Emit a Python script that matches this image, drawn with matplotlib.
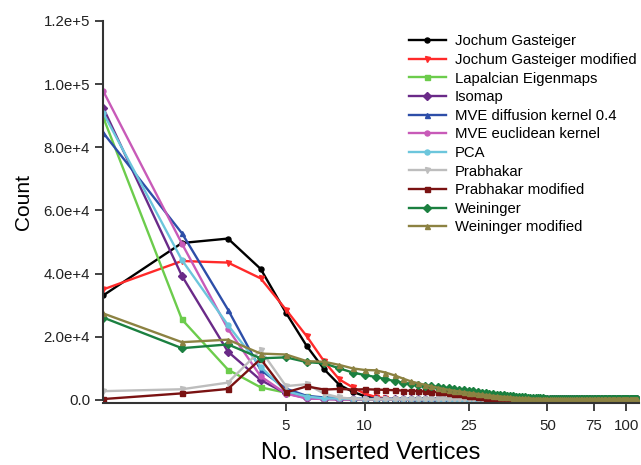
import matplotlib
matplotlib.use("Agg")
import matplotlib.pyplot as plt
from matplotlib.ticker import FixedLocator, NullLocator, FixedFormatter

plt.rcParams['font.family'] = ['Liberation Sans', 'DejaVu Sans']

x_values = list(range(1, 111))

labels = ["Jochum Gasteiger", "Jochum Gasteiger modified", "Lapalcian Eigenmaps",
          "Isomap", "MVE diffusion kernel 0.4", "MVE euclidean kernel", "PCA",
          "Prabhakar", "Prabhakar modified", "Weininger", "Weininger modified"]

jochum = [33100, 49700, 51100, 41500, 27600, 17100, 9700, 4800, 2600, 1200,
          600, 300, 150, 100] + [60] * 96
jochum_mod = [35000, 44000, 43500, 38500, 28600, 20200, 12200, 6500, 4000, 2000,
              1000, 500, 250, 150] + [100] * 96
laplacian = [89500, 25500, 9600, 4000, 2300, 1200, 600, 400] + [200] * 102
isomap = [92500, 39300, 15300, 6300, 2100, 600, 300] + [200] * 103
mve_diff = [84600, 52800, 28600, 9500, 3600, 1300, 800, 600] + [400] * 102
mve_eucl = [97800, 49500, 22500, 7500, 2000, 500, 300] + [200] * 103
pca = [90900, 44300, 23700, 10500, 2800, 1100, 500, 500] + [300] * 102
prabhakar = [2800, 3400, 5500, 15800, 4400, 5000, 2000, 800, 400] + [200] * 101
prabhakar_mod = [300, 2100, 3500, 13000, 2400, 4300, 3300, 3500, 3300, 3400,
                 3300, 3200, 3100, 3000, 2900, 2800, 2700, 2600, 2500, 2400,
                 2200, 2000, 1800, 1600, 1400, 1200, 1000, 850, 700, 600,
                 550, 500, 450, 400, 370, 340, 310, 280, 260, 250] + [200] * 70
weininger = [26100, 16400, 17600, 13200, 13500, 12000, 11600, 10000, 8700, 7900,
             7300, 6600, 6000, 5500, 5100, 4800, 4500, 4300, 4100, 3900,
             3700, 3500, 3300, 3100, 2900, 2700, 2500, 2300, 2150, 2000,
             1850, 1700, 1600, 1450, 1350, 1250, 1150, 1050, 950, 870,
             800, 740, 680, 630, 590, 550, 520, 490, 460, 440] + [300] * 60
weininger_mod = [27400, 18300, 19100, 14700, 14400, 12300, 12100, 11100, 10000, 9500,
                 9400, 8700, 7800, 6800, 5900, 5300, 4800, 4300, 3900, 3500,
                 3200, 2900, 2700, 2500, 2300, 2100, 1900, 1750, 1600, 1450,
                 1300, 1200, 1100, 1000, 900, 820, 750, 680, 620, 560,
                 520, 480, 450, 420, 400, 380, 360, 340, 320, 300] + [280] * 60

series = [jochum, jochum_mod, laplacian, isomap, mve_diff, mve_eucl, pca,
          prabhakar, prabhakar_mod, weininger, weininger_mod]
colors = ['#000000', '#ff2a2a', '#6ccc4c', '#6a2a88', '#2d4ea8', '#c85ab8',
          '#6cc6dc', '#bdbdbd', '#7a1212', '#1b8040', '#8c8242']
markers = ['o', 'v', 's', 'D', '^', 'o', 'o', 'v', 's', 'D', '^']

xticks = [5, 10, 25, 50, 75, 100]
yticks = [0, 20000, 40000, 60000, 80000, 100000, 120000]
ytick_labels = ["0.0", "2.0e+4", "4.0e+4", "6.0e+4", "8.0e+4", "1.0e+5", "1.2e+5"]

fig = plt.figure(figsize=(6.41, 4.65), dpi=100)
ax = fig.add_axes([0.161, 0.133, 0.836, 0.822])

for ys, lab, c, m in zip(series, labels, colors, markers):
    ax.plot(x_values, ys, color=c, marker=m, markersize=3.6, linewidth=1.7,
            label=lab)

ax.set_xscale('log')
ax.set_xlim(1, 112)
ax.set_ylim(-1000, 120000)
ax.xaxis.set_major_locator(FixedLocator(xticks))
ax.xaxis.set_major_formatter(FixedFormatter([str(t) for t in xticks]))
ax.xaxis.set_minor_locator(NullLocator())
ax.set_yticks(yticks)
ax.set_yticklabels(ytick_labels)

for s in ['top', 'right']:
    ax.spines[s].set_visible(False)
for s in ['left', 'bottom']:
    ax.spines[s].set_linewidth(1.5)
    ax.spines[s].set_color('#333333')
ax.spines['left'].set_bounds(0, 120000)
ax.tick_params(axis='both', direction='out', length=6, width=1.3,
               labelsize=10.8, colors='#333333', labelcolor='#222222')
ax.tick_params(axis='x', pad=5.7)

ax.set_xlabel("No. Inserted Vertices", fontsize=17, labelpad=6.5)
ax.set_ylabel("Count", fontsize=15)
ax.yaxis.set_label_coords(-0.149, 0.526)
ax.yaxis.label.set_verticalalignment('center')

ax.legend(loc='upper right', bbox_to_anchor=(1.02, 1.0), frameon=False,
          fontsize=10.7, handlelength=2.5, handletextpad=0.6,
          labelspacing=0.31, borderaxespad=0.5)

fig.savefig("out.png", dpi=100)
